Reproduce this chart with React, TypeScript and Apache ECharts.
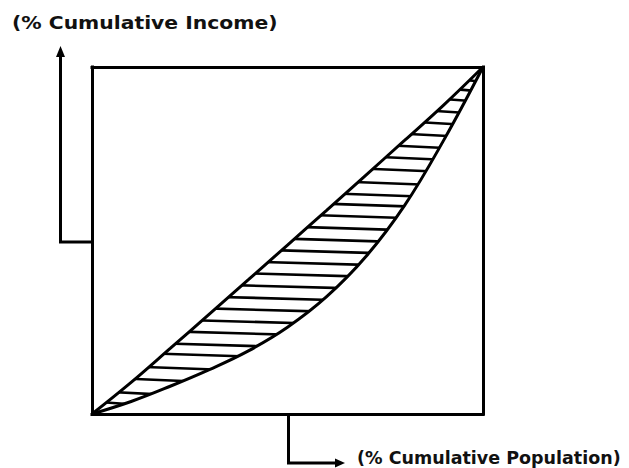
import React, { useEffect, useRef } from "react";
import * as echarts from "echarts";

// Upper boundary (near line of equality), % population vs % income
const upperX = [0, 10, 20, 30, 40, 50, 60, 70, 80, 90, 100];
const upperY = [0, 9.1, 18.9, 28.8, 38.7, 48.7, 58.7, 68.8, 78.9, 89.1, 100];
// Lorenz curve (lower boundary)
const lowerX = [0, 10, 20, 30, 40, 50, 60, 70, 80, 90, 100];
const lowerY = [0, 3.6, 8.0, 12.8, 18.2, 25.0, 33.8, 45.3, 60.2, 79.0, 100];
// Hatch line levels (% cumulative income)
const hatchY = [3.1, 6.0, 9.8, 13.2, 17.0, 19.9, 23.3, 26.6, 30.0, 33.3, 36.7, 40.1, 43.4, 46.8, 50.1, 53.5, 56.9, 60.2, 63.1, 66.5, 70.3, 73.7, 77.0, 80.4, 83.8, 87.1, 90.5, 93.4, 96.2];

const yLabel = "(% Cumulative Income)";
const xLabel = "(% Cumulative Population)";

function interpX(xs: number[], ys: number[], y: number): number {
  for (let i = 1; i < ys.length; i++) {
    if (y <= ys[i]) {
      const t = (y - ys[i - 1]) / (ys[i] - ys[i - 1]);
      return xs[i - 1] + t * (xs[i] - xs[i - 1]);
    }
  }
  return xs[xs.length - 1];
}

export default function App() {
  const ref = useRef<HTMLDivElement>(null);
  useEffect(() => {
    if (!ref.current) return;
    const chart = echarts.init(ref.current, null, { renderer: "svg" });
    const upper = upperX.map((x, i) => [x, upperY[i]]);
    const lower = lowerX.map((x, i) => [x, lowerY[i]]);
    const hatchSeries = hatchY.map((y) => {
      const xl = Math.max(0, interpX(upperX, upperY, y) - 4);
      const xr = Math.min(100, interpX(lowerX, lowerY, y) + 4);
      return {
        type: "line",
        data: [
          [xl, y + 0.5],
          [xr, y - 0.5],
        ],
        symbol: "none",
        lineStyle: { color: "#000", width: 2.6 },
        z: 1,
        silent: true,
      };
    });
    const axisCommon = {
      type: "value",
      min: 0,
      max: 100,
      axisLabel: { show: false },
      axisTick: { show: false },
      splitLine: { show: false },
      axisLine: { show: true, onZero: false, lineStyle: { color: "#000", width: 3, cap: "square" } },
      z: 10,
    };
    const curveCommon = {
      type: "line",
      smooth: 0.4,
      symbol: "none",
      lineStyle: { color: "#000", width: 3 },
      z: 3,
      silent: true,
    };
    chart.setOption({
      animation: false,
      backgroundColor: "#fff",
      grid: { left: 92, top: 67, width: 391, height: 347 },
      xAxis: [
        { ...axisCommon, position: "bottom" },
        { ...axisCommon, position: "top" },
      ],
      yAxis: [
        { ...axisCommon, position: "left" },
        { ...axisCommon, position: "right" },
      ],
      series: [
        ...hatchSeries,
        {
          ...curveCommon,
          data: upper,
          areaStyle: { color: "#fff", opacity: 1, origin: "end" },
        },
        {
          ...curveCommon,
          data: lower,
          areaStyle: { color: "#fff", opacity: 1, origin: "start" },
        },
      ],
      graphic: [
        {
          type: "polyline",
          shape: { points: [[92, 242], [60.5, 242], [60.5, 55]] },
          style: { stroke: "#000", lineWidth: 3, fill: null },
          z: 20,
        },
        {
          type: "polygon",
          shape: { points: [[60.5, 46], [56, 57], [65, 57]] },
          style: { fill: "#000" },
          z: 20,
        },
        {
          type: "polyline",
          shape: { points: [[288.5, 414], [288.5, 463], [336, 463]] },
          style: { stroke: "#000", lineWidth: 3, fill: null },
          z: 20,
        },
        {
          type: "polygon",
          shape: { points: [[345, 463], [335, 458.5], [335, 467.5]] },
          style: { fill: "#000" },
          z: 20,
        },
        {
          type: "text",
          x: 12,
          y: 14,
          scaleX: 1.13,
          style: {
            text: yLabel,
            fill: "#111",
            font: "bold 18px 'DejaVu Sans'",
          },
          z: 20,
        },
        {
          type: "text",
          x: 357,
          y: 450,
          scaleX: 1.03,
          style: {
            text: xLabel,
            fill: "#111",
            font: "bold 17px 'DejaVu Sans'",
          },
          z: 20,
        },
      ],
    });
    return () => chart.dispose();
  }, []);
  return (
    <div
      ref={ref}
      style={{ position: "fixed", left: 0, top: 0, width: 629, height: 468 }}
    />
  );
}
